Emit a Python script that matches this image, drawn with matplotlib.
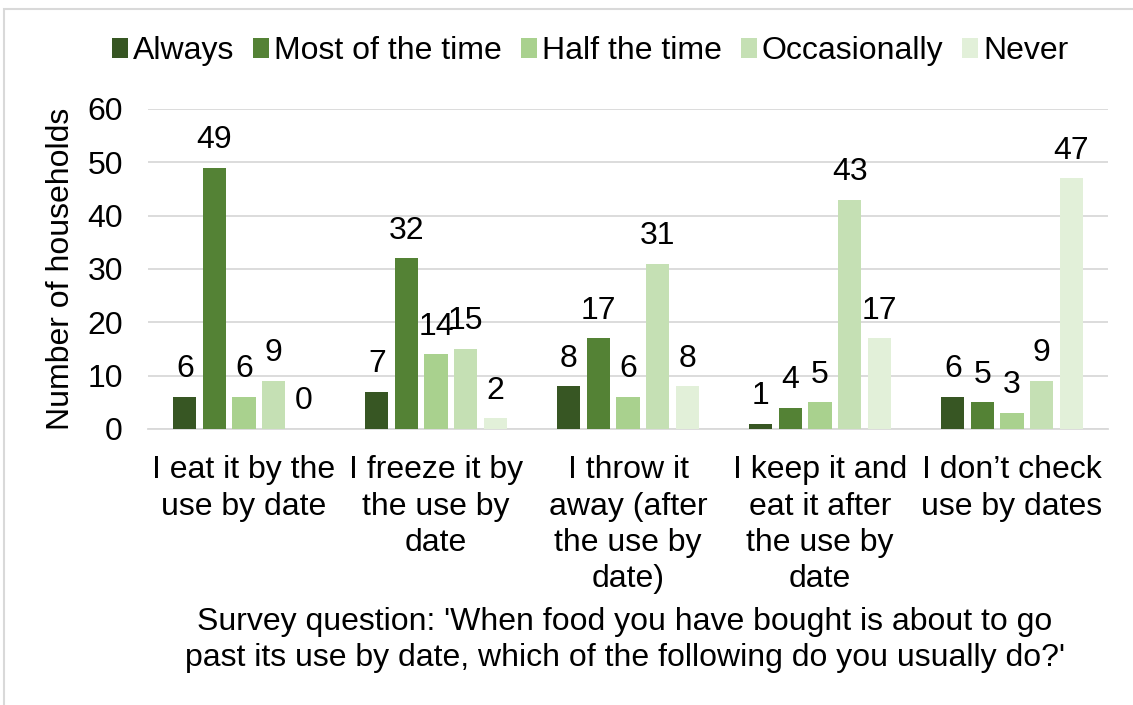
import numpy as np
import matplotlib.pyplot as plt
from matplotlib.patches import Rectangle

plt.rcParams['font.family'] = ['Liberation Sans', 'DejaVu Sans']

categories = ['I eat it by the\nuse by date', 'I freeze it by\nthe use by\ndate',
              'I throw it\naway (after\nthe use by\ndate)', 'I keep it and\neat it after\nthe use by\ndate',
              'I don\u2019t check\nuse by dates']
series = ['Always', 'Most of the time', 'Half the time', 'Occasionally', 'Never']
values = [
    [6, 7, 8, 1, 6],
    [49, 32, 17, 4, 5],
    [6, 14, 6, 5, 3],
    [9, 15, 31, 43, 9],
    [0, 2, 8, 17, 47],
]
colors = ['#375623', '#548235', '#a9d18e', '#c5e0b4', '#e2f0d9']

fs = 23

fig = plt.figure(figsize=(11.33, 7.05), dpi=100)
ax = fig.add_axes([148/1133, 1 - 429/705, 960/1133, 320/705])

x = np.arange(len(categories))
slot = 0.154
width = 0.12
for i, (name, vals) in enumerate(zip(series, values)):
    pos = x + (i - 2) * slot
    ax.bar(pos, vals, width, color=colors[i], label=name, zorder=3)
    for p, v in zip(pos, vals):
        ax.text(p, v + 2.4, str(v), ha='center', va='bottom', fontsize=fs)

ax.set_xlim(-0.5, 4.5)
ax.set_ylim(0, 60)
ax.set_yticks(range(0, 61, 10))
ax.yaxis.grid(True, color='#d9d9d9', linewidth=1.3, zorder=0)
ax.set_xticks(x)
ax.set_xticklabels(categories, fontsize=fs, linespacing=1.27)
ax.tick_params(axis='y', labelsize=fs, length=0, pad=18)
ax.tick_params(axis='x', length=0, pad=19)
for s in ['top', 'right', 'left']:
    ax.spines[s].set_visible(False)
ax.spines['bottom'].set_color('#d9d9d9')
ax.spines['bottom'].set_linewidth(1.3)
ax.set_ylabel('Number of households', fontsize=fs)
ax.yaxis.set_label_coords(-(148 - 76) / 960, 0.5)

fig.text(625/1133, 1 - 640/705, "Survey question: 'When food you have bought is about to go\npast its use by date, which of the following do you usually do?'",
         ha='center', va='center', fontsize=fs, linespacing=1.27)

fig.legend(loc='center', bbox_to_anchor=(590/1133, 1 - 51/705), ncol=5, frameon=False,
           fontsize=fs, handlelength=0.5, handleheight=0.6, handletextpad=0.15, columnspacing=0.6)

# chart border (partly cut off in the original)
fig.patches.append(Rectangle((4/1133, -0.1), 1.2, 1 - 9/705 + 0.1, transform=fig.transFigure,
                             fill=False, edgecolor='#d9d9d9', linewidth=1.5))

fig.savefig('out.png', dpi=100)
